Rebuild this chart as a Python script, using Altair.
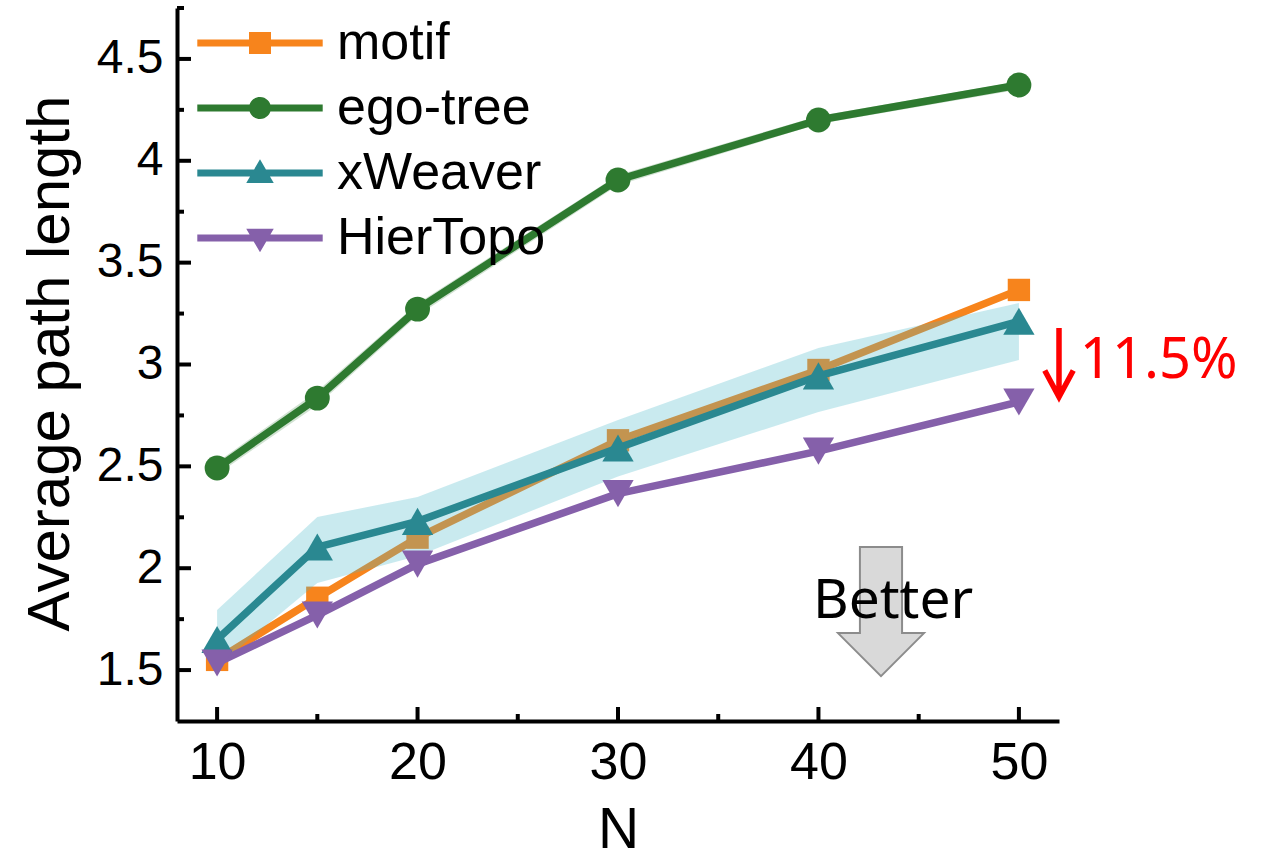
import altair as alt
import pandas as pd

# ---------------- data ----------------
N = [10, 15, 20, 30, 40, 50]
series_names = ["motif", "ego-tree", "xWeaver", "HierTopo"]
motif = [1.55, 1.855, 2.15, 2.628, 2.973, 3.366]
ego_tree = [2.492, 2.835, 3.272, 3.906, 4.200, 4.372]
xweaver = [1.65, 2.104, 2.230, 2.590, 2.944, 3.212]
hiertopo = [1.535, 1.770, 2.020, 2.366, 2.575, 2.816]

xweaver_low = [1.52, 1.927, 2.06, 2.45, 2.767, 3.022]
xweaver_high = [1.795, 2.251, 2.35, 2.727, 3.081, 3.302]
ego_low = [2.46, 2.80, 3.24, 3.88, 4.18, 4.35]
ego_high = [2.52, 2.87, 3.30, 3.93, 4.22, 4.39]

x_major = [10, 20, 30, 40, 50]
x_minor = [15, 25, 35, 45]
y_major = [1.5, 2.0, 2.5, 3.0, 3.5, 4.0, 4.5]
y_minor = [1.75, 2.25, 2.75, 3.25, 3.75, 4.25, 4.75]

better_arrow_x, better_arrow_y = [43.12], [1.787]
better_text_x, better_text_y = [43.72], [1.755]
red_arrow_x, red_arrow_y = [52.0], [3.01]
red_text_x, red_text_y = [53.04], [2.934]

colors = ["#F7841C", "#2E7A30", "#2A8891", "#8560AA"]
shapes = ["square", "circle", "triangle-up", "triangle-down"]
sizes = [500, 620, 980, 980]

legend_paths = [
    "M-5.7,-0.32H5.7V0.32H-5.7Z M-1,-1H1V1H-1Z",
    "M-5.7,-0.32H5.7V0.32H-5.7Z M-1,0A1,1 0 1,1 1,0A1,1 0 1,1 -1,0Z",
    "M-5.7,-0.32H5.7V0.32H-5.7Z M0,-1.25L1.25,0.9L-1.25,0.9Z",
    "M-5.7,-0.32H5.7V0.32H-5.7Z M0,1.3L-1.25,-0.85L1.25,-0.85Z",
]

# ---------------- tables ----------------
vals = {"motif": motif, "ego-tree": ego_tree, "xWeaver": xweaver, "HierTopo": hiertopo}
df = pd.DataFrame(
    [{"series": s, "N": n, "value": v} for s in series_names for n, v in zip(N, vals[s])]
)
band_x = pd.DataFrame({"N": N, "lo": xweaver_low, "hi": xweaver_high})
band_e = pd.DataFrame({"N": N, "lo": ego_low, "hi": ego_high})

W, H = 882, 713
FONT = "Liberation Sans"

xscale = alt.Scale(domain=[8, 52], nice=False, zero=False)
yscale = alt.Scale(domain=[1.25, 4.75], nice=False, zero=False)
cscale = alt.Scale(domain=series_names, range=colors)

xaxis = alt.Axis(
    values=x_major, title="N", grid=False, ticks=False, tickSize=0,
    domainColor="black", domainWidth=4, labelFont=FONT, labelFontSize=52,
    labelColor="black", labelPadding=16, titleFont=FONT, titleFontSize=57,
    titleFontWeight="normal", titleColor="black", titleX=W / 2, titleY=126,
    titleBaseline="alphabetic", format="d",
)
yaxis = alt.Axis(
    values=y_major, title="Average path length", grid=False, ticks=False, tickSize=0,
    domainColor="black", domainWidth=4, labelFont=FONT, labelFontSize=48,
    labelColor="black", labelPadding=14, titleFont=FONT, titleFontSize=60,
    titleFontWeight="normal", titleColor="black", titleX=-127, titleY=355,
    titleAngle=270, titleAlign="center", titleBaseline="middle", format="~g",
)


def X(field):
    return alt.X(f"{field}:Q", scale=xscale, axis=xaxis)


def Y(field):
    return alt.Y(f"{field}:Q", scale=yscale, axis=yaxis)


def line_layer(s):
    i = series_names.index(s)
    return alt.Chart(df).transform_filter(alt.datum.series == s).mark_line(
        strokeWidth=7.5, strokeJoin="round", color=colors[i]
    ).encode(x=X("N"), y=Y("value"))


def point_layer(s):
    i = series_names.index(s)
    return alt.Chart(df).transform_filter(alt.datum.series == s).mark_point(
        filled=True, shape=shapes[i], size=sizes[i], opacity=1, strokeWidth=0,
        color=colors[i],
    ).encode(x=X("N"), y=Y("value"))


ego_band = alt.Chart(band_e).mark_area(color="#2E7A30", opacity=0.22).encode(
    x=X("N"), y=Y("lo"), y2="hi"
)
xw_band = alt.Chart(band_x).mark_area(color="#4DBBCB", opacity=0.3).encode(
    x=X("N"), y=Y("lo"), y2="hi"
)

# inward ticks
tick_layers = [
    alt.Chart(pd.DataFrame({"v": x_major})).mark_rule(color="black", strokeWidth=4).encode(
        x=X("v"), y=alt.value(H), y2=alt.value(H - 14)),
    alt.Chart(pd.DataFrame({"v": x_minor})).mark_rule(color="black", strokeWidth=4).encode(
        x=X("v"), y=alt.value(H), y2=alt.value(H - 7)),
    alt.Chart(pd.DataFrame({"v": y_major})).mark_rule(color="black", strokeWidth=4).encode(
        y=Y("v"), x=alt.value(0), x2=alt.value(14)),
    alt.Chart(pd.DataFrame({"v": y_minor})).mark_rule(color="black", strokeWidth=4).encode(
        y=Y("v"), x=alt.value(0), x2=alt.value(7)),
]

better_arrow = alt.Chart(pd.DataFrame({"ax": better_arrow_x, "ay": better_arrow_y})).mark_point(
    shape="M-0.49,-1.5H0.49V0.5H1L0,1.5L-1,0.5H-0.49Z", size=7396, filled=True,
    fill="#D9D9D9", stroke="#8C8C8C", strokeWidth=2, opacity=1,
).encode(x=X("ax"), y=Y("ay"))
better_text = alt.Chart(pd.DataFrame({"ax": better_text_x, "ay": better_text_y, "t": ["Better"]})).mark_text(
    font="Noto Sans", fontSize=55, color="black", align="center", baseline="alphabetic"
).encode(x=X("ax"), y=Y("ay"), text="t:N")
red_arrow = alt.Chart(pd.DataFrame({"ax": red_arrow_x, "ay": red_arrow_y})).mark_point(
    shape="M0,-1.5V1.4M-0.62,0.35L0,1.5L0.62,0.35", size=2116, filled=False,
    stroke="#FF0000", strokeWidth=5.5, opacity=1,
).encode(x=X("ax"), y=Y("ay"))
red_text = alt.Chart(pd.DataFrame({"ax": red_text_x, "ay": red_text_y, "t": ["11.5%"]})).mark_text(
    font="Noto Sans", fontSize=56, color="#FF0000", align="left", baseline="alphabetic"
).encode(x=X("ax"), y=Y("ay"), text="t:N")

leg = alt.Legend(
    orient="none", legendX=57, legendY=9, title=None, labelFont=FONT, labelFontSize=52,
    labelColor="black", symbolSize=484, labelOffset=51, rowPadding=13, padding=0,
    symbolStrokeWidth=0, symbolOpacity=1, labelLimit=500,
)
legend_layer = alt.Chart(pd.DataFrame({"series": series_names})).transform_filter("false").mark_point(
    filled=True, opacity=1
).encode(
    x=X("N"), y=Y("value"),
    color=alt.Color("series:N", scale=cscale, legend=leg),
    shape=alt.Shape("series:N", scale=alt.Scale(domain=series_names, range=legend_paths), legend=leg),
)

chart = alt.layer(
    ego_band, line_layer("ego-tree"), point_layer("ego-tree"),
    line_layer("motif"), point_layer("motif"),
    xw_band,
    line_layer("xWeaver"), point_layer("xWeaver"),
    line_layer("HierTopo"), point_layer("HierTopo"),
    *tick_layers,
    better_arrow, better_text, red_arrow, red_text,
    legend_layer,
).properties(
    width=W, height=H,
    autosize=alt.AutoSizeParams(type="none"),
    padding={"left": 177, "top": 8, "right": 1271 - 177 - W, "bottom": 860 - 8 - H},
    background="white",
).configure_view(stroke=None)

chart.save("out.html", embed_options={"renderer": "svg", "actions": False})
